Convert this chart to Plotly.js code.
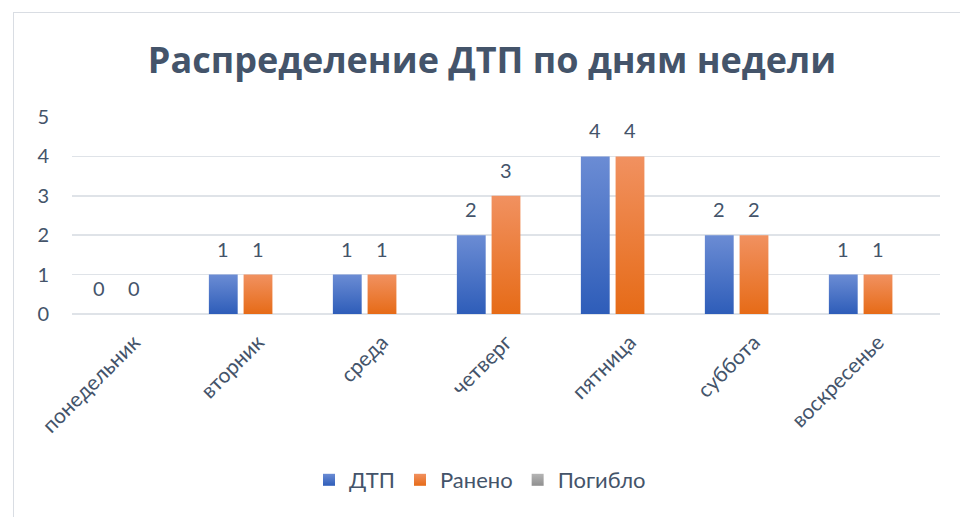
<!DOCTYPE html>
<html>
<head>
<meta charset="utf-8">
<script src="https://cdn.plot.ly/plotly-3.0.1.min.js"></script>
<style>
  html, body { margin: 0; padding: 0; background: #ffffff; }
  #frame { position: absolute; left: 13px; top: 12px; width: 960px; height: 520px;
           border-left: 1px solid #d9dde3; border-top: 1px solid #d9dde3; }
  #chart { position: absolute; left: 0; top: 0; width: 960px; height: 517px; }
</style>
</head>
<body>
<div id="frame"></div>
<div id="chart"></div>
<script>
const days = ["понедельник", "вторник", "среда", "четверг", "пятница", "суббота", "воскресенье"];
const dtp = [0, 1, 1, 2, 4, 2, 1];
const injured = [0, 1, 1, 3, 4, 2, 1];
const killed = [0, 0, 0, 0, 0, 0, 0];
const seriesNames = ["ДТП", "Ранено", "Погибло"];
const yTicks = [0, 1, 2, 3, 4, 5];

const txtColor = "#44546a";
const fontFam = "Lato, 'Noto Sans', sans-serif";
const BARGAP = 0.16;
const nSeries = 3;
const slot = (1 - BARGAP) / nSeries;

const traces = [
  { type: "bar", name: seriesNames[0], x: days, y: dtp,
    marker: { color: "#4472c4" }, hoverinfo: "x+y" },
  { type: "bar", name: seriesNames[1], x: days, y: injured,
    marker: { color: "#f07c2c" }, hoverinfo: "x+y" },
  { type: "bar", name: seriesNames[2], x: days, y: killed,
    marker: { color: "#a5a5a5" }, hoverinfo: "x+y" }
];

// data labels (above ДТП and Ранено bars)
const annotations = [];
[dtp, injured].forEach((vals, s) => {
  vals.forEach((v, i) => {
    annotations.push({
      x: i + (s - 1) * slot, y: v, xref: "x", yref: "y",
      text: String(v), showarrow: false, yanchor: "middle", xanchor: "center",
      yshift: 26, font: { size: 20, color: txtColor, family: fontFam }
    });
  });
});

const layout = {
  width: 960, height: 517,
  paper_bgcolor: "rgba(0,0,0,0)", plot_bgcolor: "rgba(0,0,0,0)",
  margin: { l: 72, r: 20, t: 117, b: 203 },
  font: { family: fontFam, color: txtColor, size: 20 },
  title: { text: "<b>Распределение ДТП по дням недели</b>", x: 0.5125, xref: "container",
           y: 1 - 60 / 517, yref: "container", yanchor: "middle", xanchor: "center",
           font: { size: 36, color: txtColor, family: "'Open Sans', sans-serif" } },
  barmode: "group", bargap: BARGAP, bargroupgap: 0.17,
  xaxis: { tickangle: -45, tickfont: { size: 21, color: txtColor }, ticks: "",
           ticklabelstandoff: 11, showgrid: false, showline: false, zeroline: false },
  yaxis: { range: [0, 5], tickvals: yTicks, ticktext: yTicks.map(String), showgrid: true,
           gridcolor: "#dfe3e8", gridwidth: 1.5, zeroline: true, zerolinecolor: "#dfe3e8",
           zerolinewidth: 1.5, showline: false, ticks: "", ticklabelstandoff: 22,
           tickfont: { size: 20, color: txtColor } },
  legend: { orientation: "h", x: 0.5, xanchor: "center", xref: "container",
            y: 37 / 517, yref: "container", yanchor: "middle",
            font: { size: 22, color: txtColor }, itemwidth: 30, traceorder: "normal" },
  annotations: annotations,
  showlegend: true
};

const gradients = [
  ["#6b8cd4", "#2e5db9"],
  ["#f19160", "#e66b17"],
  ["#b5b5b5", "#8f8f8f"]
];

Plotly.newPlot("chart", traces, layout, { displayModeBar: false, staticPlot: true }).then(gd => {
  const svg = gd.querySelector(".main-svg");
  const ns = "http://www.w3.org/2000/svg";
  let defs = svg.querySelector("defs");
  if (!defs) { defs = document.createElementNS(ns, "defs"); svg.insertBefore(defs, svg.firstChild); }
  gradients.forEach((g, i) => {
    const lg = document.createElementNS(ns, "linearGradient");
    lg.setAttribute("id", "barGrad" + i);
    lg.setAttribute("x1", "0"); lg.setAttribute("y1", "0");
    lg.setAttribute("x2", "0"); lg.setAttribute("y2", "1");
    [[0, g[0]], [1, g[1]]].forEach(([o, c]) => {
      const s = document.createElementNS(ns, "stop");
      s.setAttribute("offset", o); s.setAttribute("stop-color", c);
      lg.appendChild(s);
    });
    defs.appendChild(lg);
  });
  gd.querySelectorAll(".barlayer .trace").forEach((tr, i) => {
    tr.querySelectorAll(".point path").forEach(p => { p.style.fill = "url(#barGrad" + i + ")"; });
  });
  gd.querySelectorAll(".legend .traces").forEach((tr, i) => {
    tr.querySelectorAll(".legendpoints path").forEach(p => { p.style.fill = "url(#barGrad" + i + ")"; });
  });
});
</script>
</body>
</html>
